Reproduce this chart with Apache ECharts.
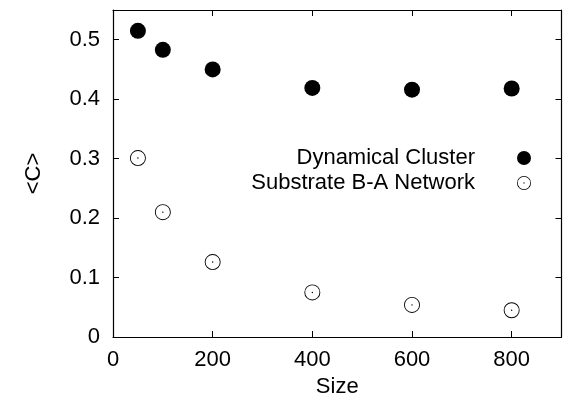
<!DOCTYPE html>
<html>
<head>
<meta charset="utf-8">
<script src="https://cdn.jsdelivr.net/npm/echarts@6/dist/echarts.min.js"></script>
<style>
  html, body { margin: 0; padding: 0; background: #fff; }
  #chart { width: 563px; height: 404px; }
</style>
</head>
<body>
<div id="chart"></div>
<script>
// values
var sizes = [50, 100, 200, 400, 600, 800];
var clusterC = [0.515, 0.483, 0.450, 0.419, 0.416, 0.418];
var substrateC = [0.301, 0.210, 0.126, 0.075, 0.054, 0.045];
var xRange = [0, 900];
var yRange = [0, 0.55];

var FONT = 'Liberation Sans';
// ring with a dot in the middle (inner circle wound the other way to cut a hole)
var ringDot = 'path://M0,-10A10,10 0 1,1 0,10A10,10 0 1,1 0,-10Z' +
    'M0,-8.9A8.9,8.9 0 1,0 0,8.9A8.9,8.9 0 1,0 0,-8.9Z' +
    'M0,-0.9A0.9,0.9 0 1,1 0,0.9A0.9,0.9 0 1,1 0,-0.9Z';

function pairs(xs, ys) {
    return xs.map(function (x, i) { return [x, ys[i]]; });
}

var axisLine = { show: true, onZero: false, lineStyle: { color: '#000', width: 1.2 } };
var tickIn = { show: true, inside: true, length: 6, lineStyle: { color: '#000', width: 1 } };

var chart = echarts.init(document.getElementById('chart'));
chart.setOption({
    animation: false,
    textStyle: { fontFamily: FONT },
    grid: { left: 113, right: 1.5, top: 10, bottom: 67 },
    legend: {
        orient: 'vertical',
        align: 'right',
        right: 27,
        top: 142,
        itemWidth: 16,
        itemHeight: 14,
        itemGap: 3,
        selectedMode: false,
        textStyle: { fontSize: 22, color: '#000', fontFamily: FONT, padding: [0, 36, 0, 0] },
        data: ['Dynamical Cluster', 'Substrate B-A Network']
    },
    xAxis: [{
        type: 'value', min: xRange[0], max: xRange[1], interval: 200,
        name: 'Size', nameLocation: 'middle', nameGap: 36,
        nameTextStyle: { fontSize: 22, color: '#000', fontFamily: FONT },
        axisLine: axisLine, axisTick: tickIn, splitLine: { show: false },
        axisLabel: { fontSize: 22, color: '#000', margin: 12, showMaxLabel: false }
    }, {
        type: 'value', position: 'top', min: xRange[0], max: xRange[1], interval: 200,
        axisLine: axisLine, axisTick: tickIn, splitLine: { show: false },
        axisLabel: { show: false }
    }],
    yAxis: [{
        type: 'value', min: yRange[0], max: yRange[1], interval: 0.1,
        name: '<C>', nameLocation: 'middle', nameGap: 68, nameRotate: 90,
        nameTextStyle: { fontSize: 22, color: '#000', fontFamily: FONT },
        axisLine: axisLine, axisTick: tickIn, splitLine: { show: false },
        axisLabel: { fontSize: 22, color: '#000', margin: 13, showMaxLabel: false }
    }, {
        type: 'value', position: 'right', min: yRange[0], max: yRange[1], interval: 0.1,
        axisLine: axisLine, axisTick: tickIn, splitLine: { show: false },
        axisLabel: { show: false }
    }],
    series: [{
        name: 'Dynamical Cluster',
        type: 'scatter',
        symbol: 'circle',
        symbolSize: 16,
        itemStyle: { color: '#000', opacity: 1 },
        data: pairs(sizes, clusterC)
    }, {
        name: 'Substrate B-A Network',
        type: 'scatter',
        symbol: ringDot,
        symbolSize: 16,
        itemStyle: { color: '#000', opacity: 1 },
        data: pairs(sizes, substrateC)
    }]
});
</script>
</body>
</html>
